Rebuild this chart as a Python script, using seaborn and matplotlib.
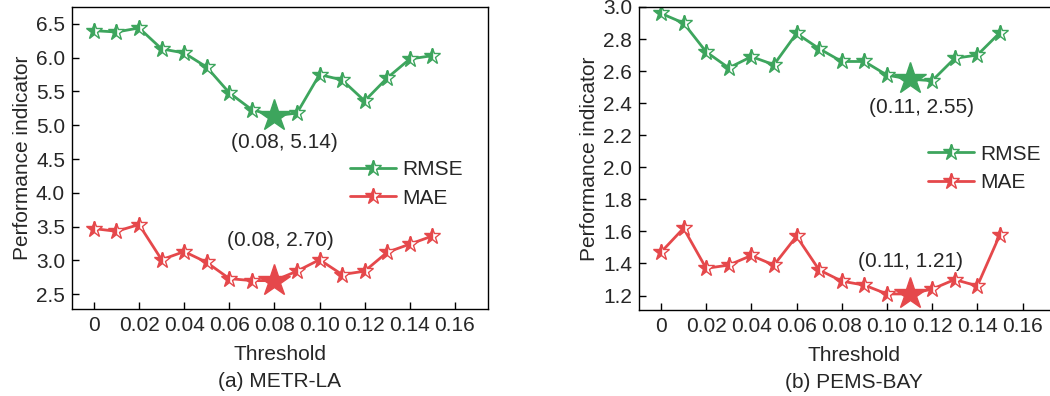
import matplotlib
matplotlib.use("Agg")
import matplotlib.pyplot as plt
import numpy as np
import pandas as pd
import seaborn as sns

# thresholds shared by both datasets
threshold = [0.00, 0.01, 0.02, 0.03, 0.04, 0.05, 0.06, 0.07,
             0.08, 0.09, 0.10, 0.11, 0.12, 0.13, 0.14, 0.15]

# METR-LA
metr_rmse = [6.40, 6.38, 6.44, 6.13, 6.07, 5.86, 5.48, 5.23,
             5.14, 5.18, 5.75, 5.67, 5.36, 5.70, 5.98, 6.03]
metr_mae = [3.47, 3.43, 3.53, 3.01, 3.13, 2.97, 2.73, 2.70,
            2.70, 2.84, 3.01, 2.79, 2.84, 3.12, 3.24, 3.36]

# PEMS-BAY
pems_rmse = [2.96, 2.90, 2.72, 2.62, 2.69, 2.64, 2.835, 2.74,
             2.66, 2.66, 2.575, 2.55, 2.54, 2.68, 2.70, 2.84]
pems_mae = [1.47, 1.62, 1.37, 1.39, 1.45, 1.39, 1.57, 1.36,
            1.29, 1.265, 1.21, 1.21, 1.24, 1.30, 1.26, 1.58]

xticks = [0, 0.02, 0.04, 0.06, 0.08, 0.10, 0.12, 0.14, 0.16]
xticklabels = ["0", "0.02", "0.04", "0.06", "0.08", "0.10", "0.12", "0.14", "0.16"]

GREEN = "#3da55d"
RED = "#e5484b"
FS = 15

sns.set_theme(style="ticks")
plt.rcParams["font.family"] = ["Liberation Sans", "DejaVu Sans"]
plt.rcParams["xtick.direction"] = "in"
plt.rcParams["ytick.direction"] = "in"

fig = plt.figure(figsize=(10.5, 3.96), dpi=100)
ax1 = fig.add_axes([0.0686, 0.2197, 0.396, 0.7626])
# right panel runs past the figure edge, as in the original
ax2 = fig.add_axes([0.6086, 0.2172, 0.41, 0.7652])


def draw(ax, rmse, mae, best_idx, rmse_txt, mae_txt, ylim, yticks, yfmt,
         caption, legend_anchor, xmax):
    df = pd.DataFrame({"Threshold": threshold, "RMSE": rmse, "MAE": mae})
    for name, col in [("RMSE", GREEN), ("MAE", RED)]:
        sns.lineplot(
            data=df, x="Threshold", y=name, ax=ax, color=col, label=name,
            marker="*", markersize=12, fillstyle="left",
            markerfacecoloralt="white", markeredgecolor=col,
            markeredgewidth=1.0, linewidth=2,
        )
        ax.plot(threshold[best_idx], df[name][best_idx], marker="*",
                markersize=24, color=col, markeredgecolor=col, zorder=5,
                linestyle="none")
    for (tx, ty, s) in [rmse_txt, mae_txt]:
        ax.text(tx, ty, s, ha="center", va="center", fontsize=FS)

    ax.set_xlim(-0.0097, xmax)
    ax.set_ylim(*ylim)
    ax.set_xticks(xticks)
    ax.set_xticklabels(xticklabels)
    ax.set_yticks(yticks)
    ax.set_yticklabels([yfmt.format(v) for v in yticks])
    ax.tick_params(labelsize=FS, length=5, width=1, color="black", pad=5)
    ax.set_xlabel("Threshold", fontsize=FS, labelpad=7)
    ax.set_ylabel("Performance indicator", fontsize=FS, labelpad=3)
    for sp in ax.spines.values():
        sp.set_color("black")
        sp.set_linewidth(1.0)
    ax.legend(loc="center right", bbox_to_anchor=legend_anchor, frameon=False,
              fontsize=FS, handlelength=2.2, handletextpad=0.3,
              labelspacing=0.45, borderaxespad=0)
    ax.text(0.5, -0.24, caption, transform=ax.transAxes, ha="center",
            va="center", fontsize=FS)


draw(ax1, metr_rmse, metr_mae, 8,
     (0.0845, 4.74, "(0.08, 5.14)"), (0.0825, 3.30, "(0.08, 2.70)"),
     (2.28, 6.75), [2.5, 3.0, 3.5, 4.0, 4.5, 5.0, 5.5, 6.0, 6.5], "{:.1f}",
     "(a) METR-LA", (0.96, 0.414), 0.1746)

draw(ax2, pems_rmse, pems_mae, 11,
     (0.1155, 2.37, "(0.11, 2.55)"), (0.1105, 1.41, "(0.11, 1.21)"),
     (1.11, 3.0), [1.2, 1.4, 1.6, 1.8, 2.0, 2.2, 2.4, 2.6, 2.8, 3.0], "{:.1f}",
     "(b) PEMS-BAY", (0.952, 0.467), 0.1808)

fig.savefig("out.png", dpi=100)
